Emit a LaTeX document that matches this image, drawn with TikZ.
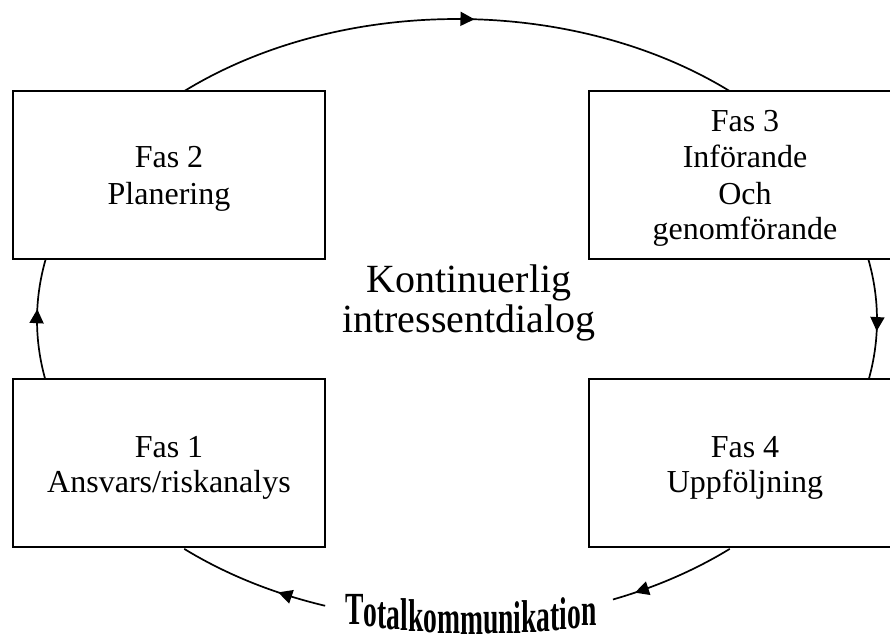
\documentclass[tikz,border=0pt]{standalone}
\usepackage{fontspec}
\setmainfont{Liberation Serif}
\newfontfamily\totalfont{Liberation Serif}[FakeStretch=0.6]
\usetikzlibrary{arrows.meta,decorations.markings,calc}
\newcommand\tkl[2]{\raisebox{-#1pt}[\height][0pt]{#2}}
\begin{document}
\begin{tikzpicture}[x=1pt,y=1pt,
  box/.style={draw, line width=1.6pt, minimum width=312pt, minimum height=168pt, inner sep=0pt},
  lbl/.style={anchor=base, inner sep=0pt, font=\fontsize{32}{37}\selectfont},
  ctr/.style={anchor=base, inner sep=0pt, font=\fontsize{40}{46}\selectfont},
  cyc/.style={line width=1.7pt},
  midarrow/.style={postaction={decorate}, decoration={markings,
     mark=at position #1 with {\arrow{Triangle[length=14pt,width=14pt]}}}}
]
\useasboundingbox (0,0) rectangle (890,638);
\clip (0,0) rectangle (890,638);
\fill[white] (0,0) rectangle (890,638);

% boxes
\node[box] (b2) at (169,463) {};
\node[box] (b3) at (745,463) {};
\node[box] (b1) at (169,175) {};
\node[box] (b4) at (745,175) {};

% box texts
\node[lbl] (t2a) at (169,470) {Fas 2};
\node[lbl] (t2b) at (169,433) {Planering};
\node[lbl] (t3a) at (745,506) {Fas 3};
\node[lbl] (t3b) at (745,470) {Införande};
\node[lbl] (t3c) at (745,433) {Och};
\node[lbl] (t3d) at (745,398) {genomförande};
\node[lbl] (t1a) at (169,181) {Fas 1};
\node[lbl] (t1b) at (169,146) {Ansvars/riskanalys};
\node[lbl] (t4a) at (745,181) {Fas 4};
\node[lbl] (t4b) at (745,146) {Uppföljning};

% centre text
\node[ctr] (k1) at (469,346) {Kontinuerlig};
\node[ctr] (k2) at (469,306) {intressentdialog};

% cycle ellipse pieces
\coordinate (c) at (457,318);
\coordinate (pTop) at ($(c)+(130.4:420pt and 301pt)$);
\coordinate (pRight) at ($(c)+(11.7:420pt and 301pt)$);
\coordinate (pBR) at ($(c)+(310.5:420pt and 301pt)$);
\coordinate (pBL) at ($(c)+(251.7:420pt and 301pt)$);
\coordinate (pLeft) at ($(c)+(191.3:420pt and 301pt)$);

\draw[cyc, midarrow=0.53] (pTop) arc[start angle=130.4, end angle=49.5, x radius=420pt, y radius=301pt];
\draw[cyc, midarrow=0.60] (pRight) arc[start angle=11.7, end angle=-11.3, x radius=420pt, y radius=301pt];
\draw[cyc, midarrow=0.82] (pBR) arc[start angle=310.5, end angle=291.8, x radius=420pt, y radius=301pt];
\draw[cyc, midarrow=0.32] (pBL) arc[start angle=251.7, end angle=229.5, x radius=420pt, y radius=301pt];
\draw[cyc, midarrow=0.58] (pLeft) arc[start angle=191.3, end angle=168.3, x radius=420pt, y radius=301pt];

% arched title (upright letters on a curved baseline)
\node[anchor=base west, inner sep=0pt] (tk) at (345,14)
  {\totalfont\bfseries\fontsize{46}{46}\selectfont
   \tkl{0}{T}\tkl{2.6}{o}\tkl{4.0}{t}\tkl{5.3}{a}\tkl{6.3}{l}\tkl{7.4}{k}%
   \tkl{8.6}{o}\tkl{9.4}{m}\tkl{10}{m}\tkl{9.9}{u}\tkl{9.5}{n}\tkl{9}{i}%
   \tkl{8.5}{k}\tkl{7.4}{a}\tkl{6.5}{t}\tkl{5.7}{i}\tkl{4.2}{o}\tkl{1.5}{n}};
\end{tikzpicture}
\end{document}
